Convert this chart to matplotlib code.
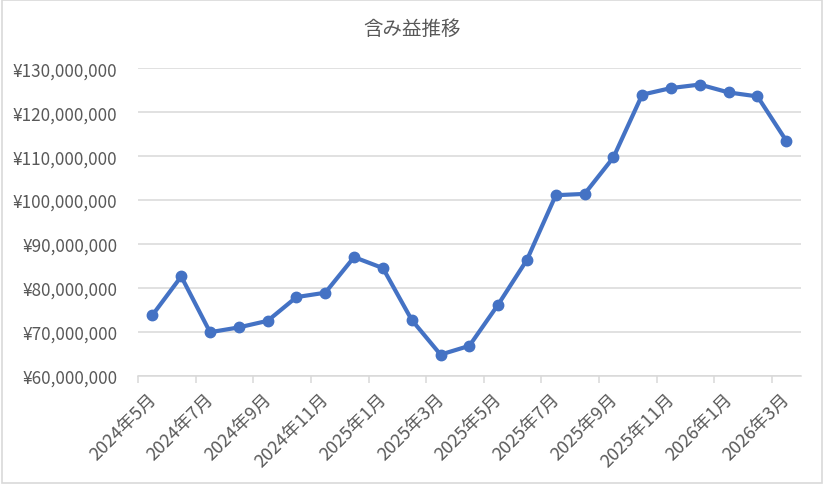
import matplotlib
matplotlib.use("Agg")
from matplotlib import pyplot as plt
from matplotlib.ticker import FuncFormatter
from matplotlib.transforms import ScaledTranslation

plt.rcParams['font.family'] = ['Noto Sans CJK JP', 'DejaVu Sans']

# 2024年5月 〜 2026年3月 (月次)
months = ["2024年5月", "2024年6月", "2024年7月", "2024年8月", "2024年9月", "2024年10月",
          "2024年11月", "2024年12月", "2025年1月", "2025年2月", "2025年3月", "2025年4月",
          "2025年5月", "2025年6月", "2025年7月", "2025年8月", "2025年9月", "2025年10月",
          "2025年11月", "2025年12月", "2026年1月", "2026年2月", "2026年3月"]
values = [73.8, 82.6, 69.9, 71.0, 72.5, 77.9, 78.9, 87.0, 84.5, 72.7, 64.8, 66.8,
          76.2, 86.4, 101.1, 101.4, 109.7, 124.0, 125.5, 126.3, 124.5, 123.6, 113.5]
values = [v * 1_000_000 for v in values]
tick_labels = months[::2]

fig = plt.figure(figsize=(8.24, 4.85), dpi=100)
ax = fig.add_axes([0.1675, 0.2233, 0.8042, 0.6338])

# 日付軸のように各月の中央に点を置く
xs = [i + 0.5 for i in range(len(values))]
ax.plot(xs, values, color="#4472C4", linewidth=3.0, marker="o", markersize=7.5,
        solid_capstyle="round", zorder=3)

ax.set_xlim(0, len(values))
ax.set_ylim(60_000_000, 130_000_000)
ax.set_yticks(range(60_000_000, 130_000_001, 10_000_000))
ax.yaxis.set_major_formatter(FuncFormatter(lambda v, p: f"¥{v:,.0f}"))
ax.set_xticks(range(0, len(values), 2))
ax.set_xticklabels(tick_labels, rotation=45, ha="right", rotation_mode="anchor")

ax.grid(axis="y", color="#D9D9D9", linewidth=1.1)
ax.set_axisbelow(True)
for s in ["top", "right", "left"]:
    ax.spines[s].set_visible(False)
ax.spines["bottom"].set_color("#D9D9D9")
ax.spines["bottom"].set_linewidth(1.1)
ax.tick_params(axis="x", colors="#D9D9D9", length=5, width=1.1, labelcolor="#595959",
               labelsize=13, pad=5)
ax.tick_params(axis="y", length=0, labelcolor="#595959", labelsize=12.3, pad=15)

shift = ScaledTranslation(9 / 100, 0, fig.dpi_scale_trans)
for lbl in ax.get_xticklabels():
    lbl.set_transform(lbl.get_transform() + shift)

fig.text(0.5, 0.94, "含み益推移", ha="center", va="center", fontsize=14, color="#595959")

border = plt.Rectangle((0.002, 0.003), 0.996, 0.994, transform=fig.transFigure,
                       fill=False, edgecolor="#D9D9D9", linewidth=1.2)
fig.patches.append(border)

fig.savefig("out.png", dpi=100)
